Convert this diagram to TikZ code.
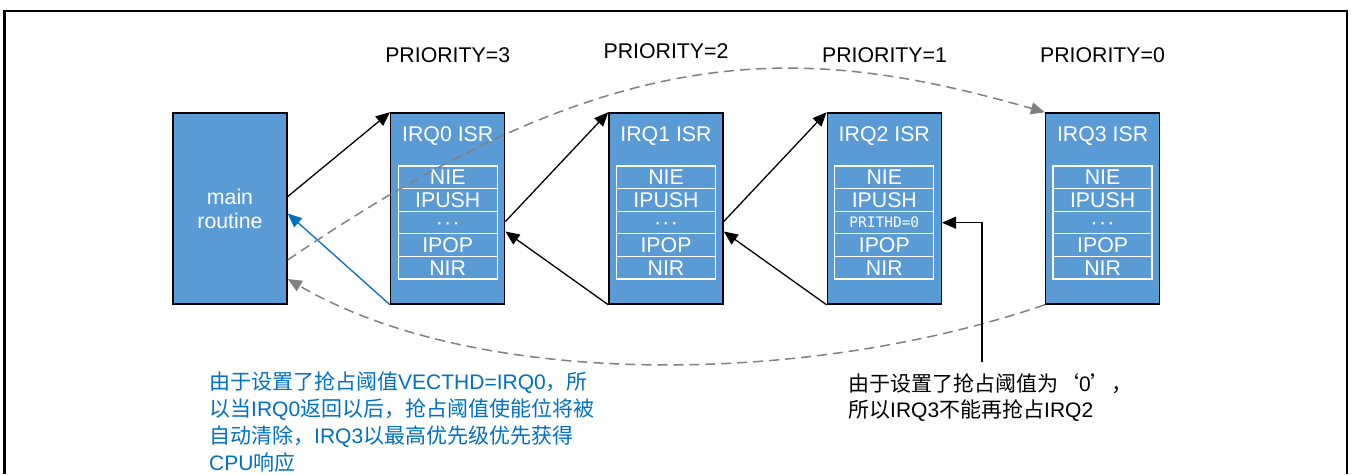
\documentclass[tikz,border=0pt]{standalone}
\usepackage{fontspec}
\setmainfont{Liberation Sans}
\newfontfamily\cjk{Noto Sans CJK SC}
\newfontfamily\monof{DejaVu Sans Mono}
\usetikzlibrary{arrows.meta,calc}
\definecolor{boxblue}{HTML}{5B9BD5}
\definecolor{linkblue}{HTML}{0070C0}
\definecolor{dgray}{HTML}{808080}
\newcommand{\middots}{\vphantom{I}\char"00B7\kern1.3pt\char"00B7\kern1.3pt\char"00B7}
\begin{document}
\begin{tikzpicture}[x=1pt,y=-1pt,
  font=\fontsize{21.3}{24}\selectfont,
  isr/.style={draw=black, line width=1.5pt, fill=boxblue, minimum width=114pt, minimum height=191pt, inner sep=0pt, text=white, align=center},
  rowbox/.style={draw=white, line width=1.3pt, minimum width=99pt, minimum height=22.6pt, inner sep=0pt, text=white},
  ttl/.style={text=white, inner sep=0pt},
  prio/.style={text=black, inner sep=0pt},
  arr/.style={-{Triangle[length=14pt,width=12pt]}, line width=1.3pt, black},
  barr/.style={-{Triangle[length=14pt,width=12pt]}, line width=1.3pt, linkblue},
  garr/.style={-{Triangle[length=14pt,width=12pt]}, line width=1.5pt, dgray, dash pattern=on 10pt off 6pt},
  note/.style={anchor=north west, align=left, inner sep=0pt}
]
\useasboundingbox (0,0) rectangle (1354,474);
\draw[line width=2.5pt] (4.5,474) -- (4.5,11) -- (1347,11) -- (1347,474);

\node[isr] (main) at (230,208.5) {main\\routine};

\foreach \i in {0,1,2,3} {
  \pgfmathsetmacro{\cx}{447.7+218.3*\i}
  \node[isr] (i\i) at (\cx,208.5) {};
  \node[ttl] (t\i) at (\cx,136) {IRQ\i{} ISR};
  \node[rowbox] (r\i a) at (\cx,177.3) {NIE};
  \node[rowbox] (r\i b) at (\cx,199.9) {IPUSH};
  \ifnum\i=2
    \node[rowbox] (r\i c) at (\cx,222.5) {\monof\fontsize{14.5}{16}\selectfont PRITHD=0};
  \else
    \node[rowbox] (r\i c) at (\cx,222.5) {\middots};
  \fi
  \node[rowbox] (r\i d) at (\cx,245.1) {IPOP};
  \node[rowbox] (r\i e) at (\cx,267.7) {NIR};
}

\node[prio] (p0) at (447.7,55.5) {PRIORITY=3};
\node[prio] (p1) at (666,51) {PRIORITY=2};
\node[prio] (p2) at (884.5,55.5) {PRIORITY=1};
\node[prio] (p3) at (1102.5,55.5) {PRIORITY=0};

\draw[arr] ([yshift=12pt]main.east) -- (i0.north west);
\draw[arr] ([yshift=-13pt]i0.east) -- (i1.north west);
\draw[arr] ([yshift=-13pt]i1.east) -- (i2.north west);
\draw[arr] (i1.south west) -- ([yshift=-23pt]i0.east);
\draw[arr] (i2.south west) -- ([yshift=-23pt]i1.east);
\draw[barr] (i0.south west) -- ([yshift=-5pt]main.east);

\draw[garr] ([yshift=-51.5pt]main.east) .. controls (615,36) and (800,42) .. (i3.north west);
\draw[garr] (i3.south west) .. controls (808,386) and (478,390) .. ([yshift=-70.5pt]main.east);

\node[note, text=linkblue, font=\fontsize{21}{27.3}\selectfont] (n1) at (209,371)
  {{\cjk 由于设置了抢占阈值}VECTHD=IRQ0{\cjk ，所}\\
   {\cjk 以当}IRQ0{\cjk 返回以后，抢占阈值使能位将被}\\
   {\cjk 自动清除，}IRQ3{\cjk 以最高优先级优先获得}\\
   CPU{\cjk 响应}};

\node[note, text=black, font=\fontsize{21}{26.3}\selectfont] (n2) at (848,373)
  {{\cjk 由于设置了抢占阈值为‘}0{\cjk ’，}\\
   {\cjk 所以}IRQ3{\cjk 不能再抢占}IRQ2};

\coordinate (c2) at (982,362);
\draw[arr] (c2) |- ([yshift=-14.2pt]i2.east);
\end{tikzpicture}
\end{document}
